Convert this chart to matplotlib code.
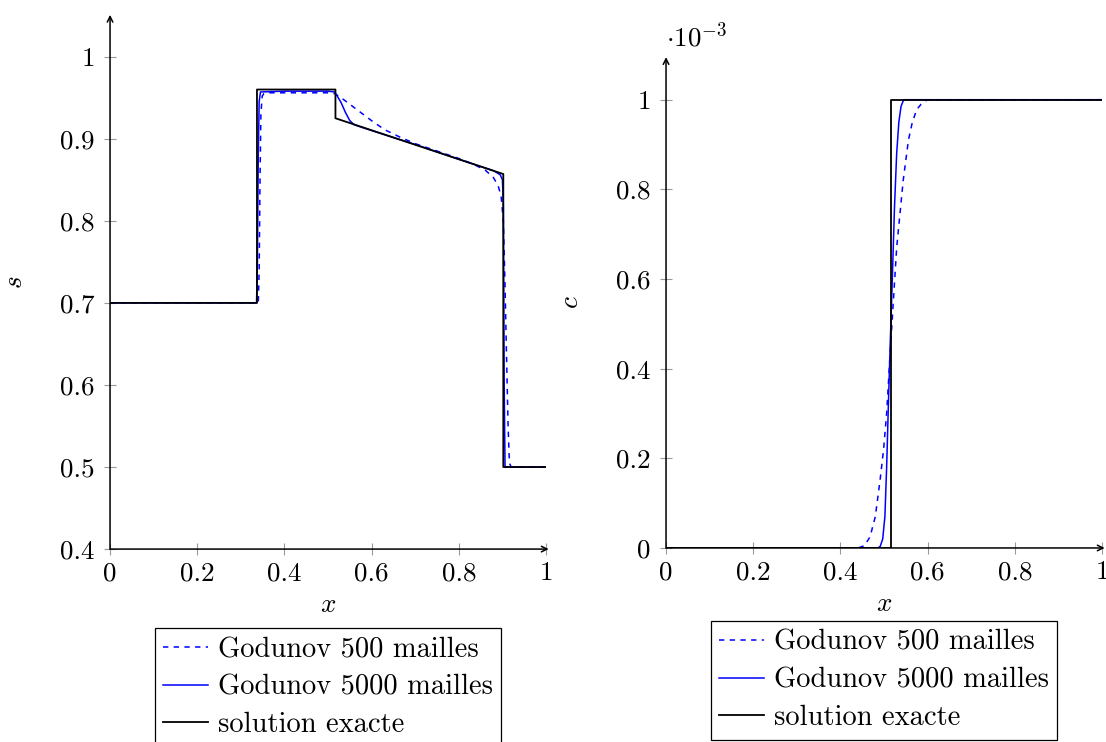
import matplotlib
matplotlib.use("Agg")
import matplotlib.pyplot as plt
from matplotlib.ticker import FuncFormatter

plt.rcParams['font.family'] = 'cmr10'
plt.rcParams['mathtext.fontset'] = 'cm'
plt.rcParams['axes.formatter.use_mathtext'] = True

FS = 19.5
LFS = 20.5

# ---- saturation s(x) ----
s_exact_x = [0, 0.337, 0.337, 0.517, 0.517, 0.902, 0.902, 1.0]
s_exact_y = [0.7, 0.7, 0.96, 0.96, 0.925, 0.857, 0.5, 0.5]

s_5000_x = [0, 0.336, 0.338, 0.340, 0.342, 0.345, 0.40, 0.50, 0.515, 0.52, 0.53, 0.54,
            0.55, 0.56, 0.6, 0.7, 0.8, 0.88, 0.895, 0.9, 0.902, 0.904, 0.906, 1.0]
s_5000_y = [0.7, 0.7, 0.75, 0.88, 0.945, 0.957, 0.958, 0.958, 0.957, 0.953, 0.944, 0.932,
            0.922, 0.917, 0.910, 0.893, 0.875, 0.861, 0.856, 0.850, 0.82, 0.6, 0.5, 0.5]

s_500_x = [0, 0.340, 0.342, 0.344, 0.346, 0.349, 0.353, 0.36, 0.50, 0.515, 0.53, 0.55,
           0.575, 0.6, 0.63, 0.665, 0.7, 0.75, 0.8, 0.833, 0.86, 0.879, 0.89, 0.897,
           0.902, 0.906, 0.91, 0.913, 0.916, 0.92, 1.0]
s_500_y = [0.7, 0.7, 0.74, 0.85, 0.93, 0.952, 0.955, 0.956, 0.956, 0.955, 0.95, 0.942,
           0.932, 0.922, 0.911, 0.902, 0.894, 0.885, 0.876, 0.869, 0.862, 0.853, 0.843, 0.83,
           0.80, 0.72, 0.62, 0.55, 0.505, 0.5, 0.5]

# ---- concentration c(x) ----
c_exact_x = [0, 0.517, 0.517, 1.0]
c_exact_y = [0, 0, 1e-3, 1e-3]

c_5000_x = [0, 0.485, 0.491, 0.497, 0.502, 0.506, 0.510, 0.514, 0.519, 0.524, 0.529,
            0.534, 0.539, 0.545, 1.0]
c_5000_y = [0, 0, 0.003e-3, 0.02e-3, 0.07e-3, 0.18e-3, 0.32e-3, 0.45e-3, 0.60e-3,
            0.76e-3, 0.88e-3, 0.95e-3, 0.985e-3, 1.0e-3, 1.0e-3]

c_500_x = [0, 0.44, 0.455, 0.468, 0.48, 0.491, 0.499, 0.506, 0.515, 0.522, 0.529,
           0.544, 0.556, 0.565, 0.575, 0.585, 0.598, 1.0]
c_500_y = [0, 0, 0.005e-3, 0.025e-3, 0.07e-3, 0.152e-3, 0.22e-3, 0.30e-3, 0.45e-3,
           0.56e-3, 0.67e-3, 0.82e-3, 0.91e-3, 0.95e-3, 0.978e-3, 0.99e-3, 0.999e-3,
           1.0e-3]

labels = ['Godunov 500 mailles', 'Godunov 5000 mailles', 'solution exacte']
xticks = [0, 0.2, 0.4, 0.6, 0.8, 1]
s_yticks = [0.4, 0.5, 0.6, 0.7, 0.8, 0.9, 1]
c_yticks = [0, 0.2e-3, 0.4e-3, 0.6e-3, 0.8e-3, 1e-3]


def style_axes(ax, ylabel, yfmt, ylabelpad):
    for sp in ax.spines.values():
        sp.set_visible(False)
    ax.annotate('', xy=(1.006, 0), xytext=(0, 0), xycoords='axes fraction',
                arrowprops=dict(arrowstyle='->', lw=1.1, color='black',
                                shrinkA=0, shrinkB=0), annotation_clip=False)
    ax.annotate('', xy=(0, 1.0), xytext=(0, 0), xycoords='axes fraction',
                arrowprops=dict(arrowstyle='->', lw=1.1, color='black',
                                shrinkA=0, shrinkB=0), annotation_clip=False)
    ax.tick_params(direction='inout', length=8, width=0.8, color='0.6',
                   labelsize=FS, pad=5)
    ax.tick_params(axis='y', pad=7)
    ax.set_xticks(xticks)
    ax.xaxis.set_major_formatter(FuncFormatter(lambda v, p: f'{v:g}'))
    ax.yaxis.set_major_formatter(FuncFormatter(yfmt))
    ax.set_xlabel('$x$', fontsize=FS, labelpad=6)
    ax.set_ylabel(ylabel, fontsize=FS, labelpad=ylabelpad)


def add_legend(ax, y_anchor):
    leg = ax.legend(labels, loc='upper center', bbox_to_anchor=(0.5, y_anchor),
                    fontsize=LFS, frameon=True, fancybox=False, edgecolor='black',
                    framealpha=1, handlelength=1.55, handletextpad=0.35,
                    labelspacing=0.40, borderpad=0.3, borderaxespad=0)
    leg.get_frame().set_linewidth(0.9)


fig = plt.figure(figsize=(11.06, 7.42), dpi=100)

ax1 = fig.add_axes([0.0995, 0.260, 0.3942, 0.720])
ax1.plot(s_500_x, s_500_y, color='blue', lw=1.1, ls=(0, (3.5, 3.5)))
ax1.plot(s_5000_x, s_5000_y, color='blue', lw=1.1)
ax1.plot(s_exact_x, s_exact_y, color='black', lw=1.3)
ax1.set_xlim(0, 1)
ax1.set_ylim(0.4, 1.051)
ax1.set_yticks(s_yticks)
style_axes(ax1, '$s$', lambda v, p: f'{v:g}', 24)
add_legend(ax1, -0.148)

ax2 = fig.add_axes([0.6022, 0.2615, 0.3942, 0.6615])
ax2.plot(c_500_x, c_500_y, color='blue', lw=1.1, ls=(0, (3.5, 3.5)))
ax2.plot(c_5000_x, c_5000_y, color='blue', lw=1.1)
ax2.plot(c_exact_x, c_exact_y, color='black', lw=1.3)
ax2.set_xlim(0, 1)
ax2.set_ylim(0, 1.095e-3)
ax2.set_yticks(c_yticks)
style_axes(ax2, '$c$', lambda v, p: f'{round(v * 1000, 6):g}', 24)
ax2.text(0.0, 1.012, r'$\cdot 10^{-3}$', transform=ax2.transAxes, fontsize=FS,
         ha='left', va='bottom')
add_legend(ax2, -0.149)

fig.savefig('out.png', dpi=100)
